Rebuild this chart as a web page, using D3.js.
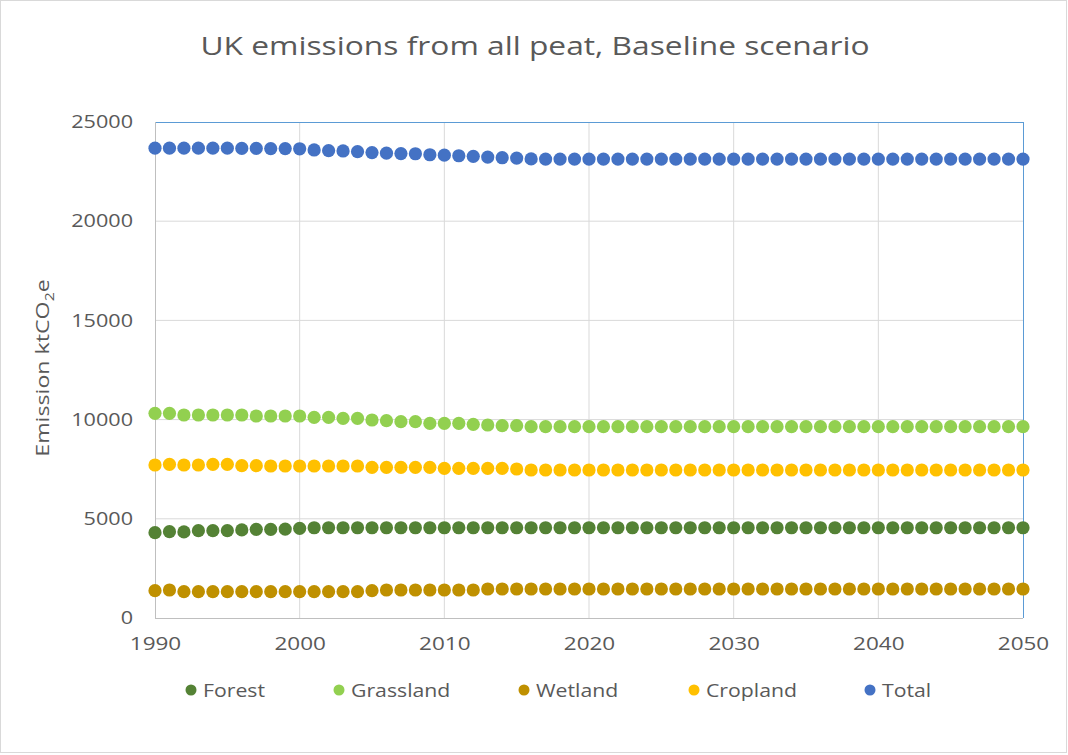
<!DOCTYPE html>
<html><head><meta charset="utf-8">
<script src="https://cdn.jsdelivr.net/npm/d3@7"></script>
<style>body{margin:0;background:#fff;} svg{display:block;font-family:"Open Sans","Noto Sans",sans-serif;}</style>
</head><body>
<svg id="c" width="1068" height="755"></svg>
<script>
const years = d3.range(1990, 2051);
const forest = [4300,4350,4340,4400,4400,4400,4440,4470,4470,4480,4520,
  4550,4550,4550,4550,4550,4550,4550,4550,4550,4550,4550,4550,4550,4550,4550,4550,4550,4550,4550,
  4550,4550,4550,4550,4550,4550,4550,4550,4550,4550,4550,4550,4550,4550,4550,4550,4550,4550,4550,4550,
  4550,4550,4550,4550,4550,4550,4550,4550,4550,4550,4550];
const grassland = [10316,10316,10232,10232,10232,10232,10232,10181,10181,10181,10181,
  10114,10114,10064,10064,9980,9946,9896,9896,9812,9812,9812,9761,9728,9694,9694,9644,9644,9644,9644,
  9644,9644,9644,9644,9644,9644,9644,9644,9644,9644,9644,9644,9644,9644,9644,9644,9644,9644,9644,9644,
  9644,9644,9644,9644,9644,9644,9644,9644,9644,9644,9644];
const wetland = [1378,1411,1327,1327,1327,1327,1327,1327,1327,1327,1327,
  1327,1327,1327,1327,1378,1411,1411,1411,1411,1411,1411,1411,1462,1462,1462,1462,1462,1462,1462,
  1462,1462,1462,1462,1462,1462,1462,1462,1462,1462,1462,1462,1462,1462,1462,1462,1462,1462,1462,1462,
  1462,1462,1462,1462,1462,1462,1462,1462,1462,1462,1462];
const cropland = [7712,7745,7712,7712,7745,7745,7678,7678,7661,7661,7661,
  7661,7661,7661,7661,7594,7594,7594,7594,7594,7544,7544,7544,7544,7544,7510,7460,7460,7460,7460,
  7460,7460,7460,7460,7460,7460,7460,7460,7460,7460,7460,7460,7460,7460,7460,7460,7460,7460,7460,7460,
  7460,7460,7460,7460,7460,7460,7460,7460,7460,7460,7460];
const total = [23680,23680,23680,23680,23680,23680,23670,23670,23660,23660,23650,
  23590,23560,23540,23510,23460,23430,23410,23400,23350,23330,23300,23270,23230,23200,23180,23140,23130,23130,23130,
  23130,23130,23130,23130,23130,23130,23130,23130,23130,23130,23130,23130,23130,23130,23130,23130,23130,23130,23130,23130,
  23130,23130,23130,23130,23130,23130,23130,23130,23130,23130,23130];
const seriesNames = ["Forest","Grassland","Wetland","Cropland","Total"];
const seriesColors = ["#548235","#92d050","#bf9000","#ffc000","#4472c4"];
const seriesValues = [forest, grassland, wetland, cropland, total];
const yTicks = [0,5000,10000,15000,20000,25000];
const xTicks = [1990,2000,2010,2020,2030,2040,2050];

const svg = d3.select("#c");
svg.append("rect").attr("x",0.5).attr("y",0.5).attr("width",1066).attr("height",752)
  .attr("fill","#fff").attr("stroke","#d9d9d9");

const L=155, R=1023, T=122, B=618;
const x = d3.scaleLinear().domain([1990,2050]).range([L,R]);
const y = d3.scaleLinear().domain([0,25000]).range([B,T]);
const SX = 1.2; // horizontal stretch of the reference's text

// gridlines
svg.append("g").selectAll("line").data(yTicks.slice(1,-1)).join("line")
  .attr("x1",L).attr("x2",R).attr("y1",d=>y(d)).attr("y2",d=>y(d))
  .attr("stroke","#d9d9d9").attr("stroke-width",1);
svg.append("g").selectAll("line").data(xTicks.slice(1,-1)).join("line")
  .attr("y1",T).attr("y2",B).attr("x1",d=>x(d)).attr("x2",d=>x(d))
  .attr("stroke","#d9d9d9").attr("stroke-width",1);

// frame: top/right blue, left/bottom gray
svg.append("line").attr("x1",L).attr("x2",R).attr("y1",T+0.5).attr("y2",T+0.5).attr("stroke","#5b9bd5");
svg.append("line").attr("x1",R+0.5).attr("x2",R+0.5).attr("y1",T).attr("y2",B).attr("stroke","#5b9bd5");
svg.append("line").attr("x1",L+0.5).attr("x2",L+0.5).attr("y1",T).attr("y2",B).attr("stroke","#bfbfbf");
svg.append("line").attr("x1",L).attr("x2",R).attr("y1",B+0.5).attr("y2",B+0.5).attr("stroke","#bfbfbf");

// axes labels
const yAxis = d3.axisLeft(y).tickValues(yTicks).tickSize(0).tickPadding(0).tickFormat(d3.format("d"));
const gy = svg.append("g").attr("transform",`translate(${L-22},0)`).call(yAxis);
gy.select(".domain").remove();
gy.selectAll("text").attr("fill","#595959").attr("font-size","18px").attr("font-family","'Open Sans',sans-serif")
  .attr("transform",`scale(${SX},1)`);

const xAxis = d3.axisBottom(x).tickValues(xTicks).tickSize(0).tickPadding(0).tickFormat(d3.format("d"));
const gx = svg.append("g").attr("transform",`translate(0,${B+19})`).call(xAxis);
gx.select(".domain").remove();
gx.selectAll("text").attr("fill","#595959").attr("font-size","18px").attr("font-family","'Open Sans',sans-serif")
  .attr("transform",`scale(1.25,1)`);

// title
svg.append("text").attr("transform","translate(535,55) scale(1.27,1)").attr("text-anchor","middle")
  .attr("fill","#595959").attr("font-size","25px").text("UK emissions from all peat, Baseline scenario");

// y title
const yt = svg.append("text").attr("transform",`translate(49,368) rotate(-90) scale(1.22,1)`)
  .attr("text-anchor","middle").attr("fill","#595959").attr("font-size","19px");
yt.append("tspan").text("Emission ktCO");
yt.append("tspan").attr("font-size","13px").attr("dy","5").text("2");
yt.append("tspan").attr("dy","-5").text("e");

// points
seriesValues.forEach((vals,i)=>{
  svg.append("g").selectAll("circle").data(vals).join("circle")
    .attr("cx",(d,j)=>x(years[j])).attr("cy",d=>y(d)).attr("r",6.6)
    .attr("fill",seriesColors[i]);
});

// legend
const legX = [191,339,524,694,870];
const lg = svg.append("g");
seriesNames.forEach((n,i)=>{
  lg.append("circle").attr("cx",legX[i]).attr("cy",690).attr("r",5.5).attr("fill",seriesColors[i]);
  lg.append("text").attr("transform",`translate(${legX[i]+12},696.5) scale(1.18,1)`).attr("fill","#595959")
    .attr("font-size","18px").text(n);
});
</script>
</body></html>
